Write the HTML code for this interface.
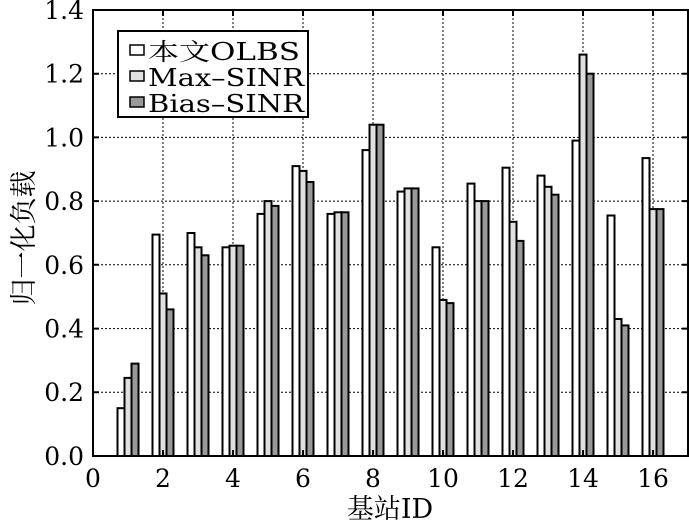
<!DOCTYPE html><html><head><meta charset="utf-8"><style>body{margin:0;background:#fff}svg{display:block}</style></head><body>
<svg width="689" height="524" viewBox="0 0 689 524" xmlns="http://www.w3.org/2000/svg" font-family="DejaVu Serif, Liberation Serif, Noto Serif CJK SC, serif">
<g stroke="#000" stroke-width="1" stroke-dasharray="2,2">
<line x1="163" y1="10" x2="163" y2="456"/><line x1="233" y1="10" x2="233" y2="456"/><line x1="303" y1="10" x2="303" y2="456"/><line x1="373" y1="10" x2="373" y2="456"/><line x1="443" y1="10" x2="443" y2="456"/><line x1="513" y1="10" x2="513" y2="456"/><line x1="583" y1="10" x2="583" y2="456"/><line x1="653" y1="10" x2="653" y2="456"/>
<line x1="93" y1="392.3" x2="688" y2="392.3"/><line x1="93" y1="328.6" x2="688" y2="328.6"/><line x1="93" y1="264.8" x2="688" y2="264.8"/><line x1="93" y1="201.1" x2="688" y2="201.1"/><line x1="93" y1="137.4" x2="688" y2="137.4"/><line x1="93" y1="73.7" x2="688" y2="73.7"/>
</g>
<g stroke="#000" stroke-width="2">
<rect x="117.5" y="408.2" width="7" height="47.8" fill="#fff"/><rect x="124.5" y="377.9" width="7" height="78.1" fill="#e0e0e0"/><rect x="131.5" y="363.6" width="7" height="92.4" fill="#999"/>
<rect x="152.5" y="234.6" width="7" height="221.4" fill="#fff"/><rect x="159.5" y="293.5" width="7" height="162.5" fill="#e0e0e0"/><rect x="166.5" y="309.4" width="7" height="146.6" fill="#999"/>
<rect x="187.5" y="233" width="7" height="223" fill="#fff"/><rect x="194.5" y="247.3" width="7" height="208.7" fill="#e0e0e0"/><rect x="201.5" y="255.3" width="7" height="200.7" fill="#999"/>
<rect x="222.5" y="247.3" width="7" height="208.7" fill="#fff"/><rect x="229.5" y="245.7" width="7" height="210.3" fill="#e0e0e0"/><rect x="236.5" y="245.7" width="7" height="210.3" fill="#999"/>
<rect x="257.5" y="213.9" width="7" height="242.1" fill="#fff"/><rect x="264.5" y="201.1" width="7" height="254.9" fill="#e0e0e0"/><rect x="271.5" y="205.9" width="7" height="250.1" fill="#999"/>
<rect x="292.5" y="166.1" width="7" height="289.9" fill="#fff"/><rect x="299.5" y="170.9" width="7" height="285.1" fill="#e0e0e0"/><rect x="306.5" y="182" width="7" height="274" fill="#999"/>
<rect x="327.5" y="213.9" width="7" height="242.1" fill="#fff"/><rect x="334.5" y="212.3" width="7" height="243.7" fill="#e0e0e0"/><rect x="341.5" y="212.3" width="7" height="243.7" fill="#999"/>
<rect x="362.5" y="150.1" width="7" height="305.9" fill="#fff"/><rect x="369.5" y="124.7" width="7" height="331.3" fill="#e0e0e0"/><rect x="376.5" y="124.7" width="7" height="331.3" fill="#999"/>
<rect x="397.5" y="191.6" width="7" height="264.4" fill="#fff"/><rect x="404.5" y="188.4" width="7" height="267.6" fill="#e0e0e0"/><rect x="411.5" y="188.4" width="7" height="267.6" fill="#999"/>
<rect x="432.5" y="247.3" width="7" height="208.7" fill="#fff"/><rect x="439.5" y="299.9" width="7" height="156.1" fill="#e0e0e0"/><rect x="446.5" y="303.1" width="7" height="152.9" fill="#999"/>
<rect x="467.5" y="183.6" width="7" height="272.4" fill="#fff"/><rect x="474.5" y="201.1" width="7" height="254.9" fill="#e0e0e0"/><rect x="481.5" y="201.1" width="7" height="254.9" fill="#999"/>
<rect x="502.5" y="167.7" width="7" height="288.3" fill="#fff"/><rect x="509.5" y="221.8" width="7" height="234.2" fill="#e0e0e0"/><rect x="516.5" y="240.9" width="7" height="215.1" fill="#999"/>
<rect x="537.5" y="175.6" width="7" height="280.4" fill="#fff"/><rect x="544.5" y="186.8" width="7" height="269.2" fill="#e0e0e0"/><rect x="551.5" y="194.7" width="7" height="261.3" fill="#999"/>
<rect x="572.5" y="140.6" width="7" height="315.4" fill="#fff"/><rect x="579.5" y="54.6" width="7" height="401.4" fill="#e0e0e0"/><rect x="586.5" y="73.7" width="7" height="382.3" fill="#999"/>
<rect x="607.5" y="215.5" width="7" height="240.5" fill="#fff"/><rect x="614.5" y="319" width="7" height="137" fill="#e0e0e0"/><rect x="621.5" y="325.4" width="7" height="130.6" fill="#999"/>
<rect x="642.5" y="158.1" width="7" height="297.9" fill="#fff"/><rect x="649.5" y="209.1" width="7" height="246.9" fill="#e0e0e0"/><rect x="656.5" y="209.1" width="7" height="246.9" fill="#999"/>
</g>
<g stroke="#000" stroke-width="2">
<path d="M163 10v6M233 10v6M303 10v6M373 10v6M443 10v6M513 10v6M583 10v6M653 10v6M163 456v-6M233 456v-6M303 456v-6M373 456v-6M443 456v-6M513 456v-6M583 456v-6M653 456v-6"/>
<path d="M93 392.3h6M93 328.6h6M93 264.8h6M93 201.1h6M93 137.4h6M93 73.7h6M688 392.3h-6M688 328.6h-6M688 264.8h-6M688 201.1h-6M688 137.4h-6M688 73.7h-6"/>
<rect x="93" y="10" width="595" height="446" fill="none"/>
<rect x="118" y="31" width="190" height="86" fill="#fff"/>
<rect x="130" y="45" width="14" height="10" fill="#fff" stroke-width="1.5"/>
<rect x="130" y="71" width="14" height="10" fill="#e0e0e0" stroke-width="1.5"/>
<rect x="130" y="97" width="14" height="10" fill="#999" stroke-width="1.5"/>
</g>
<g font-size="24">
<text x="148" y="60" textLength="152" lengthAdjust="spacingAndGlyphs">本文OLBS</text>
<text x="148" y="86" textLength="156" lengthAdjust="spacingAndGlyphs">Max–SINR</text>
<text x="148" y="112" textLength="156" lengthAdjust="spacingAndGlyphs">Bias–SINR</text>
</g>
<g font-size="25" text-anchor="end">
<text x="84" y="465">0.0</text><text x="84" y="401">0.2</text><text x="84" y="337.6">0.4</text><text x="84" y="273.8">0.6</text><text x="84" y="210">0.8</text><text x="84" y="146.4">1.0</text><text x="84" y="82.7">1.2</text><text x="84" y="19">1.4</text>
</g>
<g font-size="25" text-anchor="middle">
<text x="93" y="487">0</text><text x="163" y="487">2</text><text x="233" y="487">4</text><text x="303" y="487">6</text><text x="373" y="487">8</text><text x="443" y="487">10</text><text x="513" y="487">12</text><text x="583" y="487">14</text><text x="653" y="487">16</text>
<text x="390" y="518" font-size="27">基站ID</text>
<text transform="translate(33,238) rotate(-90)" font-size="27">归一化负载</text>
</g>
</svg></body></html>
